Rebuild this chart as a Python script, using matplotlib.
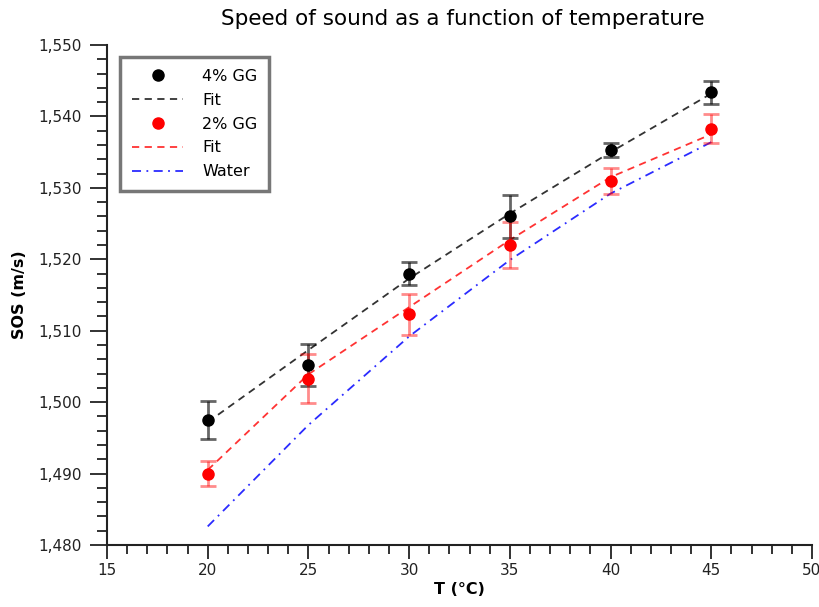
import numpy as np
import matplotlib.pyplot as plt
from matplotlib.ticker import MultipleLocator, FuncFormatter

# temperatures (deg C)
temp = [20, 25, 30, 35, 40, 45]

# 4% GG measurements and fit
sos_4 = [1497.5, 1505.2, 1518.0, 1526.0, 1535.3, 1543.4]
err_4 = [2.7, 2.9, 1.6, 3.0, 1.0, 1.6]
fit_4 = [1497.2, 1507.3, 1517.3, 1526.4, 1535.0, 1543.2]

# 2% GG measurements and fit
sos_2 = [1490.0, 1503.3, 1512.3, 1522.0, 1531.0, 1538.3]
err_2 = [1.8, 3.4, 2.9, 3.2, 1.8, 2.0]
fit_2 = [1490.5, 1503.9, 1513.3, 1522.7, 1531.5, 1537.5]

# pure water
water = [1482.6, 1496.8, 1509.2, 1519.9, 1529.2, 1536.4]

fig = plt.figure(figsize=(8.2, 6.07), dpi=100)
ax = fig.add_axes([107 / 820, 62 / 607, 705 / 820, 500 / 607])

ax.errorbar(temp, sos_4, yerr=err_4, fmt='none', ecolor=(0, 0, 0, 0.6),
            elinewidth=2, capsize=6, capthick=2, zorder=3)
ax.errorbar(temp, sos_2, yerr=err_2, fmt='none', ecolor=(1, 0, 0, 0.45),
            elinewidth=2, capsize=6, capthick=2, zorder=3)

ax.plot(temp, sos_4, 'o', color='black', ms=8, zorder=4, label='4% GG')
ax.plot(temp, fit_4, ls=(0, (4, 3)), color='#333333', lw=1.3, zorder=2, label='Fit')
ax.plot(temp, sos_2, 'o', color='red', ms=8, zorder=4, label='2% GG')
ax.plot(temp, fit_2, ls=(0, (4, 3)), color='#ff3333', lw=1.3, zorder=2, label='Fit')
ax.plot(temp, water, ls=(0, (5, 3, 1, 3)), color='#2b2bff', lw=1.3, zorder=2, label='Water')

ax.set_xlim(15, 50)
ax.set_ylim(1480, 1550)
ax.xaxis.set_major_locator(MultipleLocator(5))
ax.xaxis.set_minor_locator(MultipleLocator(1))
ax.yaxis.set_major_locator(MultipleLocator(10))
ax.yaxis.set_minor_locator(MultipleLocator(2))
ax.yaxis.set_major_formatter(FuncFormatter(lambda v, p: f"{v:,.0f}"))

for s in ['top', 'right']:
    ax.spines[s].set_visible(False)
for s in ['left', 'bottom']:
    ax.spines[s].set_linewidth(1.5)
    ax.spines[s].set_color('#222222')

ax.tick_params(axis='both', which='both', direction='out', width=1.3,
               labelsize=11, colors='#222222')
ax.tick_params(axis='y', which='major', length=12, pad=6)
ax.tick_params(axis='y', which='minor', length=7)
ax.tick_params(axis='x', which='major', length=10, pad=3)
ax.tick_params(axis='x', which='minor', length=6.5)

ax.set_xlabel('T (°C)', fontsize=11.5, fontweight='bold', labelpad=3)
ax.set_ylabel('SOS (m/s)', fontsize=11.5, fontweight='bold', labelpad=8)
fig.suptitle('Speed of sound as a function of temperature', fontsize=15.5,
             x=0.565, y=0.985)

leg = ax.legend(loc='upper left', bbox_to_anchor=((120 - 107) / 705, (545 - 57) / 500),
                borderaxespad=0, fontsize=11.5, fancybox=False, framealpha=1,
                handlelength=3.2, labelspacing=0.55, borderpad=0.75,
                handletextpad=1.2)
leg.get_frame().set_edgecolor('#777777')
leg.get_frame().set_linewidth(2.5)

fig.savefig('out.png', dpi=100)
